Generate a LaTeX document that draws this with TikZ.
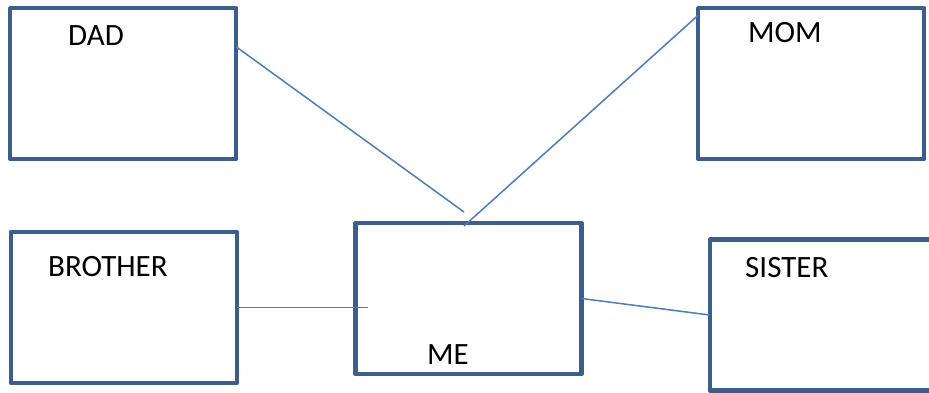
\documentclass[tikz,border=0pt]{standalone}
\usepackage{fontspec}
\setmainfont{Carlito}
\definecolor{boxblue}{HTML}{3B5E8C}
\definecolor{lineblue}{HTML}{4A7EBB}
\begin{document}
\begin{tikzpicture}[x=1pt,y=-1pt,
  famBox/.style={draw=boxblue, line width=4.4pt, line join=round, fill=white,
    minimum width=226pt, minimum height=151pt, inner sep=0pt, outer sep=0pt},
  famText/.style={anchor=base west, inner sep=0pt, font=\fontsize{31}{37}\selectfont},
  conn/.style={draw=lineblue, line width=1.5pt}]
\useasboundingbox (0,0) rectangle (929,392);
\clip (0,0) rectangle (929,392);
\fill[white] (0,0) rectangle (929,392);
% boxes
\node[famBox] (dad) at (123.25,83.65) {};
\node[famBox] (mom) at (811.25,83.65) {};
\node[famBox] (brother) at (123.75,307.5) {};
\node[famBox] (me) at (468.5,298.5) {};
\node[famBox] (sister) at (822.75,315) {};
% labels
\node[famText] (dadt) at (68,45) {DAD};
\node[famText] (momt) at (748,42) {MOM};
\node[famText] (brothert) at (48,276) {BROTHER};
\node[famText] (sistert) at (745,277) {SISTER};
\node[famText] (met) at (427,364) {ME};
% free ends
\coordinate (dadend) at (464,212);
\coordinate (momend) at (464,226);
\coordinate (broend) at (368,307.5);
% connectors
\draw[conn] ([yshift=-38.7pt]dad.north east) -- (dadend);
\draw[conn] ([yshift=-7pt]mom.north west) -- (momend);
\draw[conn] (brother.east) -- (broend);
\draw[conn] (me.east) -- (sister.west);
\end{tikzpicture}
\end{document}
